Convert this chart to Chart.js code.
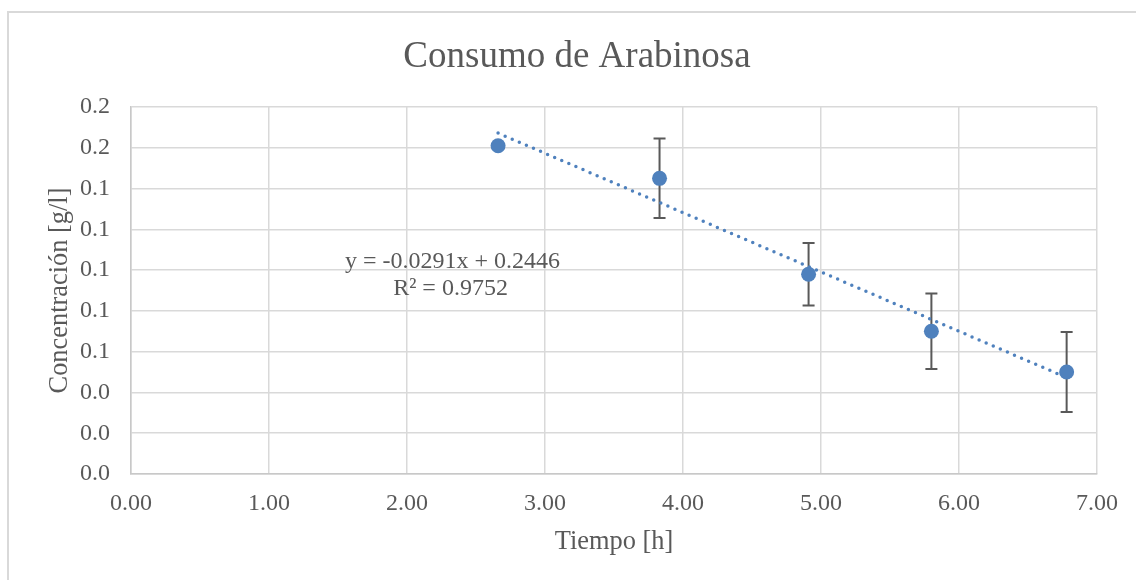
<!DOCTYPE html>
<html>
<head>
<meta charset="utf-8">
<script src="https://cdn.jsdelivr.net/npm/chart.js@4/dist/chart.umd.min.js"></script>
<style>
  html, body { margin: 0; padding: 0; background: #ffffff; }
  #wrap { position: relative; width: 1136px; height: 580px; overflow: hidden; }
  #grafico { position: absolute; left: 0; top: 0; }
  #marco {
    position: absolute; left: 7px; top: 11px; width: 1300px; height: 700px;
    border-left: 2px solid #d9d9d9; border-top: 2px solid #d9d9d9;
    pointer-events: none;
  }
</style>
</head>
<body>
<div id="wrap">
  <canvas id="grafico" width="1136" height="580" style="width:1136px;height:580px"></canvas>
  <div id="marco"></div>
</div>
<script>
// Mediciones: tiempo [h], concentración [g/l] y desviación de cada punto
const tiempo = [2.66, 3.83, 4.91, 5.80, 6.78];
const concentracion = [0.161, 0.145, 0.098, 0.070, 0.050];
const desviacion = [0, 0.0195, 0.0153, 0.0185, 0.0196];

// Ajuste lineal reportado
const pendiente = -0.0291;
const intercepto = 0.2446;
const r2 = 0.9752;

// Marcas de los ejes
const ticksX = [0, 1, 2, 3, 4, 5, 6, 7];
const ticksY = [0, 0.02, 0.04, 0.06, 0.08, 0.10, 0.12, 0.14, 0.16, 0.18];

const TITULO = 'Consumo de Arabinosa';
const FUENTE = "'Liberation Serif', 'Times New Roman', serif";
const GRIS_TEXTO = '#595959';
const AZUL = '#4f81bd';

const puntos = tiempo.map((t, i) => ({ x: t, y: concentracion[i] }));
const tInicio = tiempo[0];
const tFin = tiempo[tiempo.length - 1];
const tendencia = [
  { x: tInicio, y: pendiente * tInicio + intercepto },
  { x: tFin, y: pendiente * tFin + intercepto }
];

// Título centrado sobre todo el lienzo
const tituloGrafico = {
  id: 'tituloGrafico',
  afterDraw(chart) {
    const { ctx } = chart;
    ctx.save();
    ctx.font = '37px ' + FUENTE;
    ctx.fillStyle = GRIS_TEXTO;
    ctx.textAlign = 'center';
    ctx.textBaseline = 'alphabetic';
    ctx.fillText(TITULO, chart.width / 2 + 9, 67);
    ctx.restore();
  }
};

// Barras de error verticales, dibujadas bajo los marcadores
const barrasError = {
  id: 'barrasError',
  beforeDatasetsDraw(chart) {
    const { ctx, scales: { x, y } } = chart;
    ctx.save();
    ctx.strokeStyle = '#595959';
    ctx.lineWidth = 2;
    tiempo.forEach((t, i) => {
      const e = desviacion[i];
      if (!e) return;
      const px = x.getPixelForValue(t);
      const arriba = y.getPixelForValue(concentracion[i] + e);
      const abajo = y.getPixelForValue(concentracion[i] - e);
      ctx.beginPath();
      ctx.moveTo(px, arriba); ctx.lineTo(px, abajo);
      ctx.moveTo(px - 6, arriba); ctx.lineTo(px + 6, arriba);
      ctx.moveTo(px - 6, abajo); ctx.lineTo(px + 6, abajo);
      ctx.stroke();
    });
    ctx.restore();
  }
};

// Ecuación de la recta y coeficiente de determinación
const etiquetaAjuste = {
  id: 'etiquetaAjuste',
  afterDatasetsDraw(chart) {
    const { ctx, scales: { x, y } } = chart;
    const cx = x.getPixelForValue(2.33);
    const base = y.getPixelForValue(0.1012);
    const signo = intercepto >= 0 ? '+' : '-';
    ctx.save();
    ctx.font = '24px ' + FUENTE;
    ctx.fillStyle = GRIS_TEXTO;
    ctx.textAlign = 'center';
    ctx.textBaseline = 'alphabetic';
    ctx.fillText('y = ' + pendiente.toFixed(4) + 'x ' + signo + ' ' + Math.abs(intercepto).toFixed(4), cx, base);
    ctx.fillText('R² = ' + r2.toFixed(4), cx - 2, base + 27);
    ctx.restore();
  }
};

new Chart(document.getElementById('grafico'), {
  type: 'scatter',
  data: {
    datasets: [
      {
        label: 'Concentración',
        data: puntos,
        order: 0,
        showLine: false,
        pointRadius: 7.5,
        pointHoverRadius: 7.5,
        pointBackgroundColor: AZUL,
        pointBorderColor: AZUL,
        pointBorderWidth: 0
      },
      {
        label: 'Lineal',
        data: tendencia,
        order: 1,
        showLine: true,
        pointRadius: 0,
        borderColor: AZUL,
        borderWidth: 3.5,
        borderDash: [0, 7.7],
        borderCapStyle: 'round',
        fill: false
      }
    ]
  },
  options: {
    responsive: false,
    animation: false,
    devicePixelRatio: 1,
    layout: { padding: { left: 0, right: 39, top: 107, bottom: 0 } },
    plugins: {
      legend: { display: false },
      tooltip: { enabled: false },
      title: { display: false }
    },
    scales: {
      x: {
        type: 'linear',
        min: 0,
        max: 7,
        afterBuildTicks: s => { s.ticks = ticksX.map(v => ({ value: v })); },
        afterFit: s => { s.height = 106; },
        ticks: {
          callback: v => Number(v).toFixed(2),
          color: GRIS_TEXTO,
          font: { family: FUENTE, size: 24 },
          padding: 15,
          maxRotation: 0
        },
        grid: { color: '#d9d9d9', lineWidth: 1.5, drawTicks: false },
        border: { color: '#c8c8c8', width: 1.5 },
        title: {
          display: true,
          text: 'Tiempo [h]',
          color: GRIS_TEXTO,
          font: { family: FUENTE, size: 26.4, weight: 'normal', lineHeight: 1.2 },
          padding: { top: 0, bottom: 22 }
        }
      },
      y: {
        type: 'linear',
        min: 0,
        max: 0.18,
        afterBuildTicks: s => { s.ticks = ticksY.map(v => ({ value: v })); },
        afterFit: s => { s.width = 131; },
        ticks: {
          callback: v => Number(v).toFixed(1),
          color: GRIS_TEXTO,
          font: { family: FUENTE, size: 24 },
          padding: 21
        },
        grid: { color: '#d9d9d9', lineWidth: 1.5, drawTicks: false },
        border: { color: '#c8c8c8', width: 1.5 },
        title: {
          display: true,
          text: 'Concentración [g/l]',
          color: GRIS_TEXTO,
          font: { family: FUENTE, size: 26.4, weight: 'normal', lineHeight: 1.2 },
          padding: { top: 44, bottom: 0 }
        }
      }
    }
  },
  plugins: [tituloGrafico, barrasError, etiquetaAjuste]
});
</script>
</body>
</html>
